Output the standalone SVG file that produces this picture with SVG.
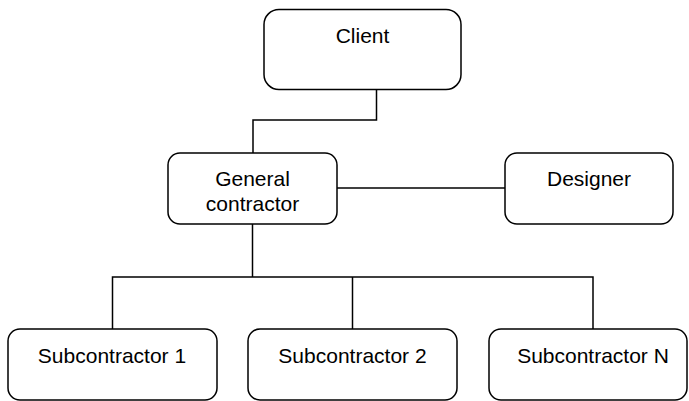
<svg xmlns="http://www.w3.org/2000/svg" width="689" height="401" viewBox="0 0 689 401">
<style>
.box{fill:#fff;stroke:#000;stroke-width:1.5}
.lbl{font-family:"Liberation Sans",Arial,sans-serif;font-size:21px;fill:#000;text-anchor:middle}
.conn{fill:none;stroke:#000;stroke-width:1.5}
</style>
<rect width="689" height="401" fill="#fff"/>
<g id="connectors">
<path class="conn" d="M376.5 89.5 V120 H253 V153"/>
<path class="conn" d="M337 188 H505"/>
<path class="conn" d="M252.5 224 V277"/>
<path class="conn" d="M112.5 329 V277 H593 V329"/>
<path class="conn" d="M352.5 277 V329"/>
</g>
<g id="client"><rect class="box" x="264" y="9.5" width="197" height="80" rx="15"/><text class="lbl" x="362.5" y="42.5">Client</text></g>
<g id="general"><rect class="box" x="168" y="153" width="169" height="71" rx="12"/><text class="lbl" x="252.5" y="185.5">General</text><text class="lbl" x="252.5" y="211">contractor</text></g>
<g id="designer"><rect class="box" x="505" y="153" width="168" height="71" rx="12"/><text class="lbl" x="589" y="185.5">Designer</text></g>
<g id="sub1"><rect class="box" x="8" y="329" width="209" height="71" rx="12"/><text class="lbl" x="112" y="362.5">Subcontractor 1</text></g>
<g id="sub2"><rect class="box" x="248" y="329" width="209" height="71" rx="12"/><text class="lbl" x="352.5" y="362.5">Subcontractor 2</text></g>
<g id="subN"><rect class="box" x="489" y="329" width="198" height="71" rx="12"/><text class="lbl" x="593" y="362.5">Subcontractor N</text></g>
</svg>
